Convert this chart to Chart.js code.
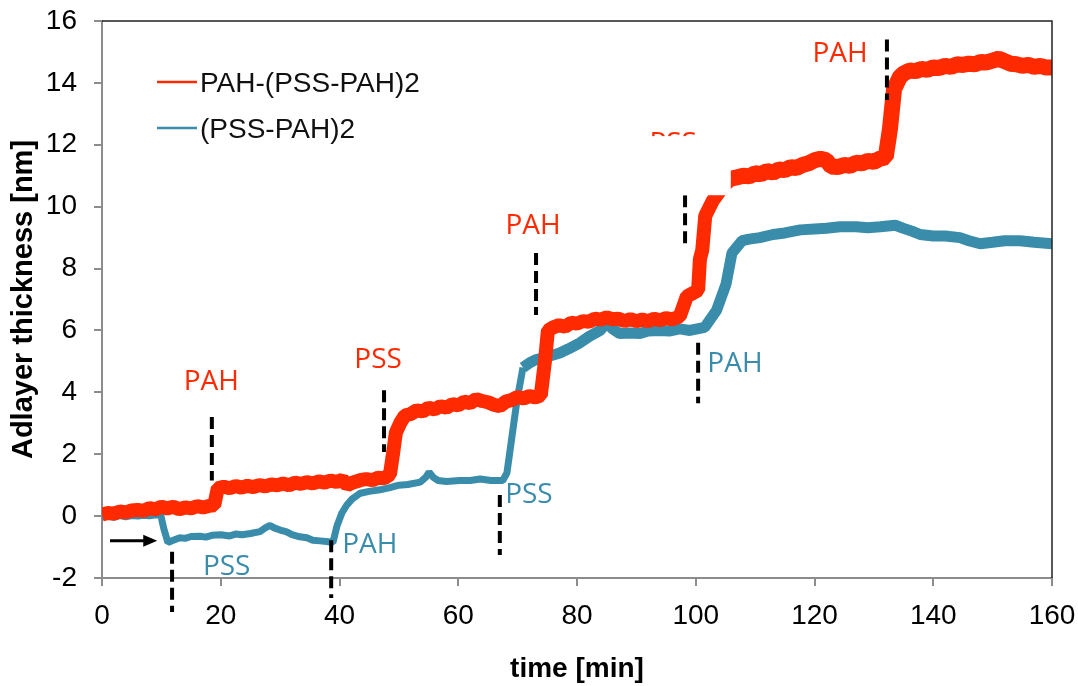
<!DOCTYPE html>
<html>
<head>
<meta charset="utf-8">
<script src="https://cdn.jsdelivr.net/npm/chart.js@4.4.0/dist/chart.umd.min.js"></script>
<style>
    html, body { margin: 0; padding: 0; background: #fff; }
    #wrap { width: 1078px; height: 686px; }
</style>
</head>
<body>
<div id="wrap"><canvas id="adlayerChart"></canvas></div>
<script>
    // PAH-(PSS-PAH)2 trace
    const redTime = [0, 1, 2, 3, 4, 5, 6, 7, 8, 9, 10, 11, 12, 13, 14, 15, 16, 17, 18, 18.9, 19.5, 20.5, 21.5, 22.5, 23.5, 24.5, 25.5,
        26.5, 27.5, 28.5, 29.5, 30.5, 31.5, 32.5, 33.5, 34.5, 35.5, 36.5, 37.5, 38.5, 39.5, 40.5, 41.3, 42.2, 43.5, 44.5, 45.5,
        46.5, 47.5, 48.5, 49.0, 49.5, 50.2, 51, 52, 53, 54, 55, 56, 57, 58, 59, 60, 61, 62, 63, 64, 65, 66, 67, 68, 69, 70, 71,
        72, 73, 73.9, 74.6, 75.1, 76, 77, 78, 79, 80, 81, 82, 83, 84, 85, 86, 87, 88, 89, 90, 91, 92, 93, 94, 95, 96, 97.3, 98.5,
        99.5, 100.4, 100.7, 101.1, 101.6, 102.9, 104.4, 105.9, 107, 108, 109, 110, 111, 112, 113, 114, 115, 116, 117, 118, 119,
        120, 121, 122, 122.8, 124, 125, 126, 127, 128, 129, 130, 131, 132, 132.7, 133.4, 134.4, 135, 136, 137, 138, 139, 140,
        141, 142, 143, 144, 145, 146, 147, 148, 149, 150, 151, 152, 153, 154, 155, 156, 157, 158, 159, 160];
    const redThick = [0.05, 0.1, 0.08, 0.15, 0.12, 0.18, 0.2, 0.17, 0.26, 0.22, 0.3, 0.25, 0.3, 0.22, 0.28, 0.25, 0.32, 0.28, 0.33, 0.35, 0.9,
        0.95, 0.9, 0.97, 0.92, 0.98, 0.94, 1.0, 0.96, 1.02, 1.0, 1.05, 1.0, 1.08, 1.04, 1.1, 1.06, 1.12, 1.08, 1.15, 1.1, 1.18,
        1.0, 1.08, 1.16, 1.2, 1.16, 1.24, 1.22, 1.35, 2.0, 2.7, 3.0, 3.25, 3.3, 3.42, 3.38, 3.5, 3.45, 3.55, 3.5, 3.62, 3.58,
        3.7, 3.65, 3.78, 3.72, 3.68, 3.6, 3.55, 3.7, 3.75, 3.85, 3.8, 3.88, 3.84, 3.9, 5.0, 6.0, 6.1, 6.17, 6.12, 6.25, 6.22,
        6.3, 6.28, 6.38, 6.35, 6.42, 6.36, 6.38, 6.3, 6.36, 6.3, 6.35, 6.3, 6.38, 6.33, 6.4, 6.36, 6.45, 7.1, 7.2, 7.3, 8.3,
        8.6, 9.7, 10.2, 10.6, 10.9, 10.95, 11.0, 10.98, 11.08, 11.05, 11.15, 11.1, 11.2, 11.18, 11.28, 11.25, 11.35, 11.4,
        11.5, 11.55, 11.5, 11.3, 11.28, 11.35, 11.32, 11.42, 11.4, 11.48, 11.45, 11.55, 11.6, 12.5, 13.8, 14.2, 14.3, 14.4,
        14.38, 14.45, 14.42, 14.5, 14.48, 14.55, 14.52, 14.6, 14.58, 14.62, 14.6, 14.68, 14.66, 14.72, 14.78, 14.7, 14.62,
        14.6, 14.55, 14.58, 14.52, 14.55, 14.5, 14.5];

    // (PSS-PAH)2 trace
    const blueTime = [0, 1, 2, 3, 4, 5, 6, 7, 8, 9, 9.9, 10.4, 11.1, 12, 13.1, 14, 15, 16.5, 17.5, 18.5, 20, 21.5, 22.5, 23.6, 25,
        26.6, 27.5, 28.3, 29, 30, 31, 32, 33.3, 34.5, 35.5, 36.7, 37.8, 38.9, 39.6, 40.4, 41.2, 42.1, 43.5, 45, 46.8, 48.5, 50,
        51.5, 53.6, 54.5, 55.1, 55.8, 56.6, 58, 60.3, 62, 63.7, 65.5, 67.5, 68.2, 69.9, 70.9, 72, 73, 75, 77.1, 78.5, 80.5, 82,
        83.9, 85, 86, 87.2, 89, 90.6, 92, 94, 95.5, 97.3, 99, 101.5, 103.5, 105.1, 106.1, 107.8, 109, 110.8, 113, 115, 117.6,
        120, 122, 124.3, 127, 129, 131.1, 133.6, 135, 136.5, 137.8, 140, 142, 144.5, 146, 147.9, 150, 152, 154.6, 157, 160];
    const blueThick = [-0.03, 0.0, -0.04, 0.02, -0.02, 0.02, 0.0, 0.03, 0.01, 0.04, 0.03, -0.4, -0.85, -0.78, -0.7, -0.72, -0.66,
        -0.65, -0.68, -0.62, -0.6, -0.64, -0.58, -0.6, -0.56, -0.5, -0.38, -0.3, -0.38, -0.45, -0.5, -0.6, -0.67, -0.7, -0.78,
        -0.8, -0.82, -0.85, -0.3, 0.1, 0.35, 0.55, 0.74, 0.8, 0.85, 0.92, 1.0, 1.02, 1.1, 1.25, 1.42, 1.25, 1.15, 1.12, 1.15,
        1.15, 1.2, 1.15, 1.15, 1.4, 3.75, 4.8, 4.95, 5.05, 5.15, 5.27, 5.4, 5.6, 5.8, 6.0, 6.25, 6.05, 5.9, 5.92, 5.9, 5.98,
        6.0, 5.98, 6.05, 6.0, 6.1, 6.65, 7.5, 8.5, 8.9, 8.95, 9.0, 9.1, 9.15, 9.25, 9.28, 9.3, 9.35, 9.35, 9.32, 9.35, 9.4,
        9.3, 9.2, 9.1, 9.05, 9.05, 9.0, 8.9, 8.8, 8.85, 8.9, 8.9, 8.85, 8.8];

    // dashed injection markers
    const markTime = [18.5, 11.8, 38.6, 47.5, 67.0, 73.1, 98.2, 100.4, 132.2];
    const markTop = [3.2, -1.15, -0.78, 4.07, 0.68, 8.5, 10.37, 5.6, 15.4];
    const markBottom = [1.15, -3.1, -2.65, 2.07, -1.26, 6.5, 8.66, 3.65, 13.45];

    // injection labels (baseline position), series 0 = red, 1 = blue
    const labelText = ["PAH", "PSS", "PAH", "PSS", "PSS", "PAH", "PAH", "PSS", "PAH"];
    const labelTime = [18.4, 21.0, 45.1, 46.5, 71.9, 72.6, 106.6, 96.2, 124.3];
    const labelThick = [4.07, -1.91, -1.2, 4.78, 0.42, 9.11, 4.65, 11.76, 14.67];
    const labelSeries = [0, 1, 1, 0, 1, 0, 1, 0, 0];

    const red = "#ff2a00";
    const blue = "#3a8cab";

    const toPoints = (xs, ys) => xs.map((t, i) => ({ x: t, y: ys[i] }));

    // keep the plot area exactly where the layout padding puts it
    const fixScale = (size) => (s) => {
        if (s.isHorizontal()) s.height = size;
        else s.width = size;
        s.paddingTop = 0;
        s.paddingBottom = 0;
        s.paddingLeft = 0;
        s.paddingRight = 0;
    };

    /*
     * Markers, labels, arrow, frame and legend */
    const annotate = {
        id: "annotate",
        afterDatasetsDraw(chart) {
            const { ctx, chartArea: area, scales: { x, y } } = chart;
            const px = (t) => x.getPixelForValue(t);
            const py = (v) => y.getPixelForValue(v);
            ctx.save();

            // top and right frame
            ctx.strokeStyle = "#222";
            ctx.lineWidth = 1.5;
            ctx.beginPath();
            ctx.moveTo(area.left, area.top);
            ctx.lineTo(area.right, area.top);
            ctx.lineTo(area.right, area.bottom);
            ctx.stroke();

            // dashed markers
            ctx.strokeStyle = "#000";
            ctx.lineWidth = 4;
            ctx.setLineDash([12, 6]);
            markTime.forEach((t, i) => {
                ctx.beginPath();
                ctx.moveTo(px(t), py(markTop[i]));
                ctx.lineTo(px(t), py(markBottom[i]));
                ctx.stroke();
            });
            ctx.setLineDash([]);

            // arrow pointing at the first PSS step
            const ay = py(-0.8);
            ctx.lineWidth = 3;
            ctx.beginPath();
            ctx.moveTo(px(1.35), ay);
            ctx.lineTo(px(9.3) - 10, ay);
            ctx.stroke();
            ctx.fillStyle = "#000";
            ctx.beginPath();
            ctx.moveTo(px(9.3), ay);
            ctx.lineTo(px(9.3) - 14, ay - 6);
            ctx.lineTo(px(9.3) - 14, ay + 6);
            ctx.closePath();
            ctx.fill();

            // labels
            ctx.font = "28px 'Open Sans'";
            ctx.textAlign = "center";
            ctx.textBaseline = "alphabetic";
            labelText.forEach((txt, i) => {
                ctx.fillStyle = labelSeries[i] === 0 ? red : blue;
                ctx.fillText(txt, px(labelTime[i]), py(labelThick[i]));
            });

            // white box that hides part of the upper PSS label
            ctx.fillStyle = "#fff";
            ctx.fillRect(px(90.6), py(12.28), px(105.9) - px(90.6), py(10.37) - py(12.28));

            // legend
            ctx.font = "28px 'Liberation Sans', Arial";
            ctx.textAlign = "left";
            chart.data.datasets.forEach((ds, i) => {
                const ly = area.top + 61 + i * 46;
                ctx.strokeStyle = ds.borderColor;
                ctx.lineWidth = 2.5;
                ctx.beginPath();
                ctx.moveTo(area.left + 55, ly);
                ctx.lineTo(area.left + 95, ly);
                ctx.stroke();
                ctx.fillStyle = "#111";
                ctx.fillText(ds.label, area.left + 98, ly + 10);
            });

            ctx.restore();
        },
    };

    const ctx = document.getElementById("adlayerChart");

    new Chart(ctx, {
        type: "line",
        data: {
            datasets: [
                {
                    label: "PAH-(PSS-PAH)2",
                    data: toPoints(redTime, redThick),
                    borderColor: red,
                    borderWidth: 14,
                    borderJoinStyle: "bevel",
                    pointRadius: 0,
                    tension: 0,
                    clip: 0,
                    segment: {
                        borderWidth: (c) => (c.p0.parsed.x < 105 ? 14 : 16),
                    },
                },
                {
                    label: "(PSS-PAH)2",
                    data: toPoints(blueTime, blueThick),
                    borderColor: blue,
                    borderWidth: 8,
                    borderJoinStyle: "bevel",
                    pointRadius: 0,
                    tension: 0,
                    clip: 0,
                    segment: {
                        borderWidth: (c) => (c.p0.parsed.x < 70 ? 7 : 11),
                    },
                },
            ],
        },
        options: {
            responsive: true,
            maintainAspectRatio: false,
            animation: false,
            layout: { padding: { top: 21, right: 26, left: 0, bottom: 0 } },
            plugins: {
                legend: { display: false },
                tooltip: { enabled: false },
            },
            scales: {
                x: {
                    type: "linear",
                    min: 0,
                    max: 160,
                    afterFit: fixScale(108),
                    ticks: {
                        stepSize: 20,
                        padding: 13,
                        color: "#000",
                        font: { family: "'Liberation Sans', Arial", size: 28 },
                    },
                    grid: { drawOnChartArea: false, tickLength: 8, color: "#8c8c8c", lineWidth: 2 },
                    border: { color: "#8c8c8c", width: 2 },
                    title: {
                        display: true,
                        text: "time [min]",
                        color: "#000",
                        padding: { top: 0, bottom: 0 },
                        font: { family: "'Liberation Sans', Arial", size: 28, weight: "bold" },
                    },
                },
                y: {
                    min: -2,
                    max: 16,
                    afterFit: fixScale(102),
                    ticks: {
                        stepSize: 2,
                        padding: 17,
                        color: "#000",
                        font: { family: "'Liberation Sans', Arial", size: 28 },
                    },
                    grid: { drawOnChartArea: false, tickLength: 8, color: "#8c8c8c", lineWidth: 2 },
                    border: { color: "#8c8c8c", width: 2 },
                    title: {
                        display: true,
                        text: "Adlayer thickness [nm]",
                        color: "#000",
                        padding: { top: 7, bottom: 0 },
                        font: { family: "'Liberation Sans', Arial", size: 29, weight: "bold" },
                    },
                },
            },
        },
        plugins: [annotate],
    });
</script>
</body>
</html>
